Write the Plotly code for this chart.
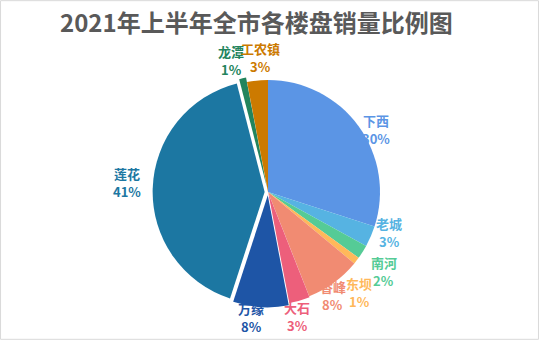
import math
import plotly.graph_objects as go

# Sales share of each property project, first half of 2021
names = ["下西", "老城", "南河", "东坝", "香峰", "大石", "万缘", "莲花", "龙潭", "工农镇"]
shares = [30, 3, 2, 1, 8, 3, 8, 41, 1, 3]
colors = ["#5b95e5", "#56b3e2", "#55cb96", "#ffb85a", "#f18b72",
          "#ed5f7b", "#1e55a6", "#1c77a2", "#22845d", "#cc7a00"]
pulls = [0, 0, 0, 0, 0, 0.01, 0.03, 0.03, 0.04, 0]

W, H = 539, 340
cx, cy, R = 268, 192, 112          # pie centre and radius in pixels
half = R * (1 + max(pulls))        # plotly shrinks the radius by the largest pull

# label placement: distance from centre (in radii) and angular nudge (degrees)
label_dist = [1.11, 1.14, 1.25, 1.21, 1.09, 1.14, 1.13, 1.26, 1.22, 1.20]
label_turn = [6, -5, 2, 10, 4, 3, 4, 2, -3, 2]

fig = go.Figure(go.Pie(
    labels=names,
    values=shares,
    sort=False,
    direction="clockwise",
    rotation=0,
    pull=pulls,
    marker=dict(colors=colors, line=dict(width=0)),
    textinfo="none",
    hoverinfo="label+percent",
    showlegend=False,
    domain=dict(x=[(cx - half) / W, (cx + half) / W],
                y=[(H - cy - half) / H, (H - cy + half) / H]),
))

total = sum(shares)
cum = 0
annotations = []
for name, v, c, dist, turn in zip(names, shares, colors, label_dist, label_turn):
    mid = (cum + v / 2) / total
    cum += v
    theta = 2 * math.pi * mid + math.radians(turn)
    r = R * dist
    px = cx + r * math.sin(theta)
    py = cy - r * math.cos(theta)
    for txt, shift in ((name, 9), (f"{v}%", -9)):
        annotations.append(dict(
            x=px / W, y=1 - py / H, xref="paper", yref="paper",
            text=f"<b>{txt}</b>", showarrow=False, yshift=shift, borderpad=0,
            font=dict(family="Noto Sans CJK SC", size=13, color=c),
            xanchor="center", yanchor="middle",
        ))

annotations.append(dict(
    x=256 / W, y=1 - 21 / H, xref="paper", yref="paper",
    text="<b>2021年上半年全市各楼盘销量比例图</b>", showarrow=False,
    font=dict(family="Noto Sans CJK SC", size=24, color="#595959"),
    xanchor="center", yanchor="middle",
))

fig.update_layout(
    width=W, height=H,
    margin=dict(l=0, r=0, t=0, b=0),
    paper_bgcolor="white",
    plot_bgcolor="white",
    annotations=annotations,
    shapes=[dict(type="rect", xref="paper", yref="paper", x0=0.001, y0=0.002,
                 x1=0.999, y1=0.998, line=dict(color="#d9d9d9", width=1))],
)

fig.write_html("out.html")
